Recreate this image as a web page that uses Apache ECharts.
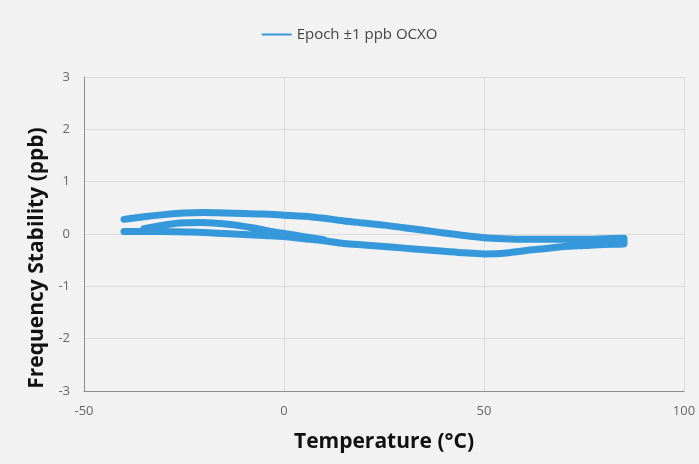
<!DOCTYPE html>
<html>
<head>
<meta charset="utf-8">
<script src="https://cdn.jsdelivr.net/npm/echarts@6/dist/echarts.min.js"></script>
<style>
html,body{margin:0;padding:0;background:#f2f2f2;}
#chart{width:699px;height:464px;}
</style>
</head>
<body>
<div id="chart"></div>
<script>
// Lower branch (temperature rising)
var lowerTemp = [-40,-35,-30,-25,-20,-15,-10,-5,0,5,10,15,20,25,30,35,40,45,50,55,60,65,70,75,80,85];
var lowerStab = [0.05,0.05,0.05,0.04,0.03,0.01,-0.01,-0.03,-0.05,-0.09,-0.13,-0.18,-0.21,-0.24,-0.27,-0.30,-0.33,-0.36,-0.38,-0.37,-0.32,-0.28,-0.24,-0.22,-0.20,-0.19];
// Upper branch (temperature falling)
var upperTemp = [85,80,75,70,65,60,55,50,45,40,35,30,25,20,15,10,5,0,-5,-10,-15,-20,-25,-30,-35,-40];
var upperStab = [-0.08,-0.09,-0.10,-0.10,-0.10,-0.10,-0.09,-0.07,-0.03,0.02,0.07,0.12,0.17,0.21,0.25,0.30,0.34,0.36,0.38,0.39,0.40,0.41,0.40,0.37,0.33,0.28];
// Transition stripe
var midTemp = [-35,-31,-26,-21,-16,-12,-8,-4,0,5,10];
var midStab = [0.10,0.16,0.21,0.22,0.20,0.17,0.12,0.06,0.01,-0.05,-0.11];

var xTicks = [-50, 0, 50, 100];
var yTicks = [-3, -2, -1, 0, 1, 2, 3];
var seriesName = 'Epoch \u00b11 ppb OCXO';

function pairs(t, v) { return t.map(function (x, i) { return [x, v[i]]; }); }
var data = [].concat(pairs(midTemp, midStab), [[null, null]], pairs(lowerTemp, lowerStab), pairs(upperTemp, upperStab));

var chart = echarts.init(document.getElementById('chart'));
chart.setOption({
  backgroundColor: '#f2f2f2',
  animation: false,
  legend: {
    top: 22, left: 'center',
    itemWidth: 30, itemHeight: 2,
    icon: 'rect',
    itemGap: 5,
    itemStyle: { color: '#3498db', borderWidth: 0 },
    lineStyle: { width: 0 },
    textStyle: { fontFamily: 'Open Sans', fontSize: 15, color: '#444' },
    data: [seriesName]
  },
  grid: { left: 84, right: 15, top: 77, bottom: 73 },
  xAxis: {
    type: 'value', min: xTicks[0], max: xTicks[xTicks.length - 1], interval: 50,
    name: 'Temperature (\u00b0C)', nameLocation: 'middle', nameGap: 41,
    nameTextStyle: { fontFamily: 'Open Sans', fontWeight: 'bold', fontSize: 21, color: '#111' },
    axisLine: { show: true, onZero: false, lineStyle: { color: '#8c8c8c', width: 1 } },
    axisTick: { show: false },
    axisLabel: { fontFamily: 'Open Sans', fontSize: 13, color: '#666', margin: 14 },
    splitLine: { show: true, lineStyle: { color: '#dcdcdc' } }
  },
  yAxis: {
    type: 'value', min: yTicks[0], max: yTicks[yTicks.length - 1], interval: 1,
    name: 'Frequency Stability (ppb)', nameLocation: 'middle', nameGap: 32,
    nameTextStyle: { fontFamily: 'Open Sans', fontWeight: 'bold', fontSize: 21, color: '#111', padding: [0, 48, 0, 0] },
    axisLine: { show: true, onZero: false, lineStyle: { color: '#8c8c8c', width: 1 } },
    axisTick: { show: false },
    axisLabel: { fontFamily: 'Open Sans', fontSize: 13, color: '#666', margin: 14 },
    splitLine: { show: true, lineStyle: { color: '#dcdcdc' } }
  },
  series: [{
    name: seriesName,
    type: 'line',
    data: data,
    showSymbol: false,
    connectNulls: false,
    smooth: 0.3,
    lineStyle: { color: '#3498db', width: 7, cap: 'round', join: 'round' },
    itemStyle: { color: '#3498db' }
  }]
});
</script>
</body>
</html>
